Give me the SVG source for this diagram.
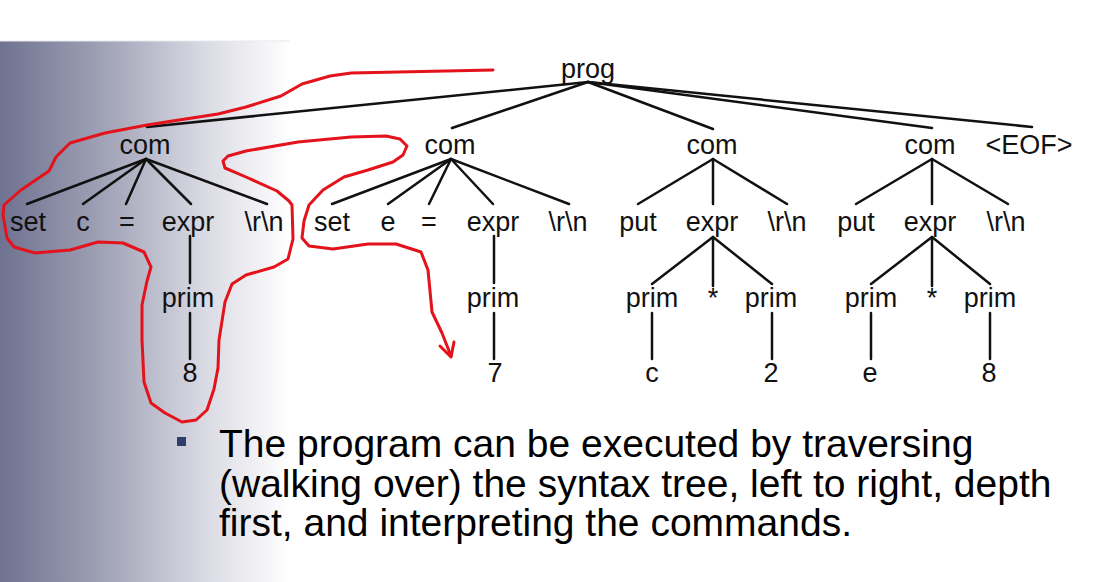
<svg xmlns="http://www.w3.org/2000/svg" width="1104" height="582" viewBox="0 0 1104 582">
  <defs>
    <linearGradient id="bg" x1="0" y1="0" x2="290" y2="0" gradientUnits="userSpaceOnUse">
      <stop offset="0" stop-color="#6f7290"/>
      <stop offset="0.35" stop-color="#9fa1b5"/>
      <stop offset="0.7" stop-color="#d9d9e3"/>
      <stop offset="1" stop-color="#ffffff"/>
    </linearGradient>
    <style>
      .t { font-family: "Liberation Sans", Arial, sans-serif; font-size: 27px; fill: #111; text-anchor: middle; }
      .b { font-family: "Liberation Sans", Arial, sans-serif; font-size: 39px; fill: #000; }
      .e { stroke: #111; stroke-width: 2.5; fill: none; stroke-linecap: round; }
      .red { stroke: #e3121b; stroke-width: 3; fill: none; stroke-linecap: round; stroke-linejoin: round; }
    </style>
  </defs>
  <rect x="0" y="0" width="1104" height="582" fill="#ffffff"/>
  <rect x="0" y="41" width="1104" height="541" fill="url(#bg)"/>
  <line x1="0" y1="41" x2="290" y2="41" stroke="#e8e8ee" stroke-width="1"/>

  <g id="connectors" class="e">
    <line x1="588" y1="82" x2="147" y2="127"/>
    <line x1="588" y1="82" x2="452" y2="128"/>
    <line x1="588" y1="82" x2="713" y2="129"/>
    <line x1="588" y1="82" x2="932" y2="128"/>
    <line x1="588" y1="82" x2="1032" y2="127"/>
    <line x1="146" y1="159" x2="27" y2="204"/>
    <line x1="146" y1="159" x2="83" y2="204"/>
    <line x1="146" y1="159" x2="126" y2="204"/>
    <line x1="146" y1="159" x2="191" y2="204"/>
    <line x1="146" y1="159" x2="267" y2="204"/>
    <line x1="451" y1="159" x2="332" y2="204"/>
    <line x1="451" y1="159" x2="388" y2="204"/>
    <line x1="451" y1="159" x2="429" y2="204"/>
    <line x1="451" y1="159" x2="493" y2="204"/>
    <line x1="451" y1="159" x2="569" y2="204"/>
    <line x1="713" y1="159" x2="638" y2="204"/>
    <line x1="713" y1="159" x2="713" y2="204"/>
    <line x1="713" y1="159" x2="787" y2="204"/>
    <line x1="932" y1="159" x2="856" y2="204"/>
    <line x1="932" y1="159" x2="932" y2="204"/>
    <line x1="932" y1="159" x2="1008" y2="204"/>
    <line x1="190" y1="236" x2="190" y2="283"/>
    <line x1="494" y1="236" x2="494" y2="283"/>
    <line x1="713" y1="237" x2="652" y2="284"/>
    <line x1="713" y1="237" x2="713" y2="286"/>
    <line x1="713" y1="237" x2="772" y2="284"/>
    <line x1="932" y1="237" x2="871" y2="284"/>
    <line x1="932" y1="237" x2="932" y2="286"/>
    <line x1="932" y1="237" x2="990" y2="284"/>
    <line x1="190" y1="313" x2="190" y2="359"/>
    <line x1="494" y1="313" x2="494" y2="359"/>
    <line x1="652" y1="313" x2="652" y2="359"/>
    <line x1="772" y1="313" x2="772" y2="359"/>
    <line x1="871" y1="313" x2="871" y2="359"/>
    <line x1="990" y1="313" x2="990" y2="359"/>
  </g>

  <g id="n-prog"><text class="t" x="588" y="78">prog</text></g>
  <g id="n-com1"><text class="t" x="145" y="154">com</text></g>
  <g id="n-com2"><text class="t" x="450" y="154">com</text></g>
  <g id="n-com3"><text class="t" x="712" y="154">com</text></g>
  <g id="n-com4"><text class="t" x="930" y="154">com</text></g>
  <g id="n-eof"><text class="t" x="1029" y="154">&lt;EOF&gt;</text></g>

  <g id="n-set1"><text class="t" x="28" y="231">set</text></g>
  <g id="n-c1"><text class="t" x="83" y="231">c</text></g>
  <g id="n-eq1"><text class="t" x="127" y="231">=</text></g>
  <g id="n-expr1"><text class="t" x="188" y="231">expr</text></g>
  <g id="n-nl1"><text class="t" x="264" y="231">\r\n</text></g>

  <g id="n-set2"><text class="t" x="332" y="231">set</text></g>
  <g id="n-e2"><text class="t" x="388" y="231">e</text></g>
  <g id="n-eq2"><text class="t" x="429" y="231">=</text></g>
  <g id="n-expr2"><text class="t" x="493" y="231">expr</text></g>
  <g id="n-nl2"><text class="t" x="568" y="231">\r\n</text></g>

  <g id="n-put3"><text class="t" x="638" y="231">put</text></g>
  <g id="n-expr3"><text class="t" x="712" y="231">expr</text></g>
  <g id="n-nl3"><text class="t" x="787" y="231">\r\n</text></g>

  <g id="n-put4"><text class="t" x="856" y="231">put</text></g>
  <g id="n-expr4"><text class="t" x="930" y="231">expr</text></g>
  <g id="n-nl4"><text class="t" x="1006" y="231">\r\n</text></g>

  <g id="n-prim1"><text class="t" x="188" y="307">prim</text></g>
  <g id="n-prim2"><text class="t" x="493" y="307">prim</text></g>
  <g id="n-prim3a"><text class="t" x="652" y="307">prim</text></g>
  <g id="n-star3"><text class="t" x="713" y="307">*</text></g>
  <g id="n-prim3b"><text class="t" x="771" y="307">prim</text></g>
  <g id="n-prim4a"><text class="t" x="871" y="307">prim</text></g>
  <g id="n-star4"><text class="t" x="932" y="307">*</text></g>
  <g id="n-prim4b"><text class="t" x="990" y="307">prim</text></g>

  <g id="n-8a"><text class="t" x="190" y="382">8</text></g>
  <g id="n-7"><text class="t" x="495" y="382">7</text></g>
  <g id="n-c"><text class="t" x="652" y="382">c</text></g>
  <g id="n-2"><text class="t" x="771" y="382">2</text></g>
  <g id="n-e"><text class="t" x="870" y="382">e</text></g>
  <g id="n-8b"><text class="t" x="989" y="382">8</text></g>

  <g id="annotation">
    <path class="red" d="M493,70 L351,73 L330,76 L302,84 L281,96 L246,107 L218,114 L179,120 L147,125 L105,133 L70,143 L56,157 L49,171 L21,190 L4,205 L3,215 L7,238 L14,247 L35,253 L70,250 L98,242 L123,243 L144,252 L151,267 L147,281 L142,305 L142,340 L144,382 L151,403 L165,413 L182,422 L196,420 L207,410 L214,389 L218,368 L219,340 L225,302 L232,284 L246,275 L274,267 L288,259 L293,239 L292,205 L289,201 L277,191 L246,177 L225,168 L223,161 L228,156 L246,151 L298,142 L351,137 L386,136 L400,139 L407,146 L403,155 L393,162 L368,170 L344,177 L323,190 L309,205 L304,221 L302,238 L309,246 L333,249 L368,244 L396,244 L421,252 L428,270 L432,312 L442,333 L451,356"/>
    <path class="red" d="M440,346 L451,357 L454,342"/>
  </g>

  <g id="bullet">
    <rect x="177" y="437" width="9" height="9" fill="#2d3f6c"/>
    <text class="b" x="219" y="457">The program can be executed by traversing</text>
    <text class="b" x="219" y="497">(walking over) the syntax tree, left to right, depth</text>
    <text class="b" x="219" y="536">first, and interpreting the commands.</text>
  </g>
</svg>
